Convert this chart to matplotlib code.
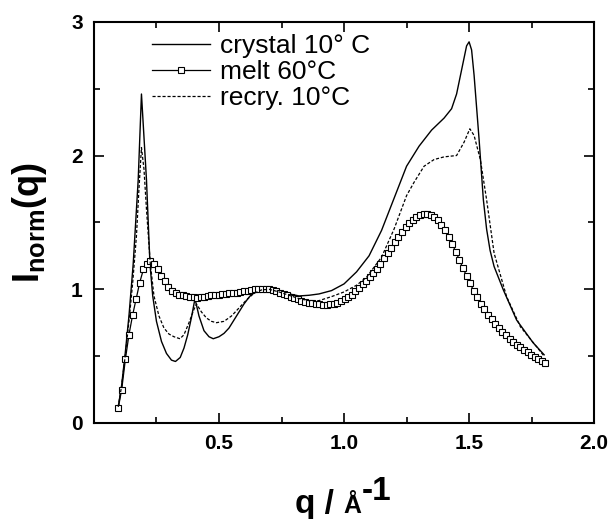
import numpy as np
import matplotlib.pyplot as plt
from matplotlib.ticker import MultipleLocator

plt.rcParams['font.family'] = ['Liberation Sans', 'DejaVu Sans']
plt.rcParams['mathtext.fontset'] = 'custom'
plt.rcParams['mathtext.rm'] = 'Liberation Sans'
plt.rcParams['mathtext.bf'] = 'Liberation Sans:bold'
plt.rcParams['mathtext.it'] = 'Liberation Sans:italic'

# crystal 10 C
cry_q = [0.097, 0.11, 0.125, 0.14, 0.157, 0.177, 0.19, 0.21, 0.224, 0.235, 0.25, 0.27,
         0.29, 0.31, 0.326, 0.345, 0.36, 0.375, 0.39, 0.404, 0.42, 0.44, 0.46, 0.477,
         0.50, 0.52, 0.54, 0.56, 0.58, 0.60, 0.62, 0.64, 0.66, 0.70, 0.74, 0.78, 0.82,
         0.86, 0.90, 0.95, 1.00, 1.05, 1.10, 1.15, 1.20, 1.25, 1.30, 1.35, 1.40, 1.43,
         1.45, 1.47, 1.49, 1.50, 1.51, 1.52, 1.54, 1.557, 1.57, 1.584, 1.60, 1.637, 1.69,
         1.756, 1.80]
cry_i = [0.12, 0.27, 0.52, 0.80, 1.19, 1.82, 2.46, 1.82, 1.19, 0.95, 0.76, 0.61,
         0.52, 0.47, 0.46, 0.49, 0.56, 0.66, 0.79, 0.93, 0.80, 0.69, 0.645, 0.63,
         0.645, 0.67, 0.71, 0.77, 0.83, 0.89, 0.94, 0.98, 1.0, 1.01, 0.99, 0.965, 0.95,
         0.955, 0.965, 0.99, 1.04, 1.13, 1.25, 1.44, 1.68, 1.92, 2.07, 2.19, 2.28, 2.35,
         2.46, 2.64, 2.82, 2.85, 2.79, 2.60, 2.12, 1.67, 1.45, 1.29, 1.17, 0.995, 0.77,
         0.60, 0.51]

# recry. 10 C
rec_q = [0.097, 0.11, 0.125, 0.14, 0.155, 0.17, 0.18, 0.19, 0.20, 0.21, 0.225, 0.24,
         0.26, 0.28, 0.30, 0.32, 0.344, 0.36, 0.38, 0.40, 0.41, 0.43, 0.45, 0.47, 0.49,
         0.52, 0.55, 0.58, 0.61, 0.64, 0.67, 0.70, 0.74, 0.78, 0.82, 0.86, 0.90, 0.95,
         1.00, 1.05, 1.09, 1.15, 1.20, 1.25, 1.28, 1.32, 1.36, 1.40, 1.45, 1.48, 1.503,
         1.52, 1.545, 1.57, 1.60, 1.65, 1.705, 1.77, 1.80]
rec_i = [0.12, 0.27, 0.50, 0.76, 1.05, 1.40, 1.75, 2.06, 1.90, 1.60, 1.20, 0.95,
         0.80, 0.71, 0.665, 0.645, 0.63, 0.66, 0.75, 0.85, 0.89, 0.83, 0.785, 0.76, 0.75,
         0.76, 0.80, 0.86, 0.92, 0.97, 0.995, 1.0, 0.98, 0.955, 0.93, 0.915, 0.915, 0.945,
         0.98, 1.03, 1.09, 1.24, 1.45, 1.70, 1.80, 1.92, 1.97, 1.99, 2.0, 2.1, 2.20,
         2.15, 1.97, 1.67, 1.27, 0.945, 0.72, 0.57, 0.50]

# melt 60 C
melt_q = [0.097, 0.111, 0.126, 0.140, 0.155, 0.169, 0.183, 0.198, 0.212, 0.226,
          0.241, 0.255, 0.269, 0.284, 0.298, 0.313, 0.327, 0.341, 0.356, 0.370,
          0.384, 0.399, 0.413, 0.427, 0.442, 0.456, 0.470, 0.485, 0.499, 0.514,
          0.528, 0.542, 0.557, 0.571, 0.585, 0.600, 0.614, 0.628, 0.643, 0.657,
          0.671, 0.686, 0.700, 0.715, 0.729, 0.743, 0.758, 0.772, 0.786, 0.801,
          0.815, 0.829, 0.844, 0.858, 0.873, 0.887, 0.901, 0.916, 0.930, 0.944,
          0.959, 0.973, 0.987, 1.002, 1.016, 1.030, 1.045, 1.059, 1.074, 1.088,
          1.102, 1.117, 1.131, 1.145, 1.160, 1.174, 1.188, 1.203, 1.217, 1.231,
          1.246, 1.260, 1.274, 1.289, 1.303, 1.318, 1.332, 1.346, 1.361, 1.375,
          1.389, 1.404, 1.418, 1.432, 1.447, 1.461, 1.475, 1.490, 1.504, 1.518,
          1.533, 1.547, 1.561, 1.576, 1.590, 1.605, 1.619, 1.633, 1.648, 1.662,
          1.676, 1.691, 1.705, 1.719, 1.734, 1.748, 1.762, 1.777, 1.791, 1.805]
melt_i = [0.11, 0.25, 0.48, 0.66, 0.81, 0.93, 1.05, 1.15, 1.19, 1.21,
          1.19, 1.15, 1.10, 1.06, 1.02, 0.99, 0.97, 0.96, 0.955, 0.95,
          0.945, 0.94, 0.935, 0.94, 0.945, 0.95, 0.955, 0.96, 0.96, 0.965,
          0.965, 0.97, 0.97, 0.975, 0.98, 0.985, 0.99, 0.995, 1.0, 1.005,
          1.005, 1.005, 1.0, 0.995, 0.985, 0.975, 0.965, 0.955, 0.945, 0.935,
          0.925, 0.915, 0.905, 0.90, 0.895, 0.89, 0.888, 0.886, 0.886, 0.888,
          0.893, 0.90, 0.91, 0.925, 0.94, 0.96, 0.985, 1.01, 1.04, 1.065,
          1.09, 1.12, 1.155, 1.19, 1.23, 1.27, 1.31, 1.35, 1.39, 1.43,
          1.465, 1.495, 1.52, 1.54, 1.555, 1.56, 1.56, 1.555, 1.54, 1.515,
          1.48, 1.44, 1.39, 1.34, 1.28, 1.22, 1.16, 1.10, 1.045, 0.99,
          0.94, 0.89, 0.85, 0.81, 0.775, 0.74, 0.71, 0.68, 0.655, 0.63,
          0.605, 0.585, 0.565, 0.545, 0.53, 0.51, 0.495, 0.48, 0.465, 0.45]

xticks = [0.5, 1.0, 1.5, 2.0]
yticks = [0, 1, 2, 3]

fig = plt.figure(figsize=(6.1, 5.19), dpi=100)
ax = fig.add_axes([0.154, 0.185, 0.82, 0.773])

ax.plot(cry_q, cry_i, color='black', lw=1.0, label='crystal 10° C')
ax.plot(melt_q, melt_i, color='black', lw=0.9, marker='s', markersize=4.5,
        markerfacecolor='white', markeredgewidth=0.8, label='melt 60°C')
ax.plot(rec_q, rec_i, color='black', lw=0.9, dashes=(2.5, 1.5), label='recry. 10°C')

ax.set_xlim(0, 2.0)
ax.set_ylim(0, 3)
ax.set_xticks(xticks)
ax.set_xticklabels(['%.1f' % v for v in xticks])
ax.set_yticks(yticks)
ax.set_yticklabels([str(v) for v in yticks])
ax.xaxis.set_minor_locator(MultipleLocator(0.25))
ax.yaxis.set_minor_locator(MultipleLocator(0.5))

ax.tick_params(which='both', direction='in', top=True, right=True, width=1.2)
ax.tick_params(which='major', length=7, labelsize=15, pad=8)
ax.tick_params(which='minor', length=4)
for lbl in ax.get_xticklabels() + ax.get_yticklabels():
    lbl.set_fontweight('bold')
for s in ax.spines.values():
    s.set_linewidth(1.5)

ax.set_ylabel(r'$\mathbf{I_{norm}(q)}$', fontsize=26, labelpad=16)

# x label built from pieces: "q /" big, "Å" smaller, "-1" raised
t1 = fig.text(295 / 610, 6 / 519, 'q / ', fontsize=24, fontweight='bold',
              va='baseline', ha='left')
fig.canvas.draw()
r = fig.canvas.get_renderer()
x2 = t1.get_window_extent(r).x1
t2 = fig.text(x2 / 610, 6 / 519, 'Å', fontsize=18, fontweight='bold',
              va='baseline', ha='left')
x3 = t2.get_window_extent(r).x1 + 1
fig.text(x3 / 610, 19 / 519, '-1', fontsize=24, fontweight='bold',
         va='baseline', ha='left')

ax.legend(loc='upper left', bbox_to_anchor=(0.08, 1.015), frameon=False, fontsize=19,
          handlelength=2.2, handletextpad=0.35, labelspacing=0.08, numpoints=1,
          borderaxespad=0.3)

fig.savefig('out.png', dpi=100)
